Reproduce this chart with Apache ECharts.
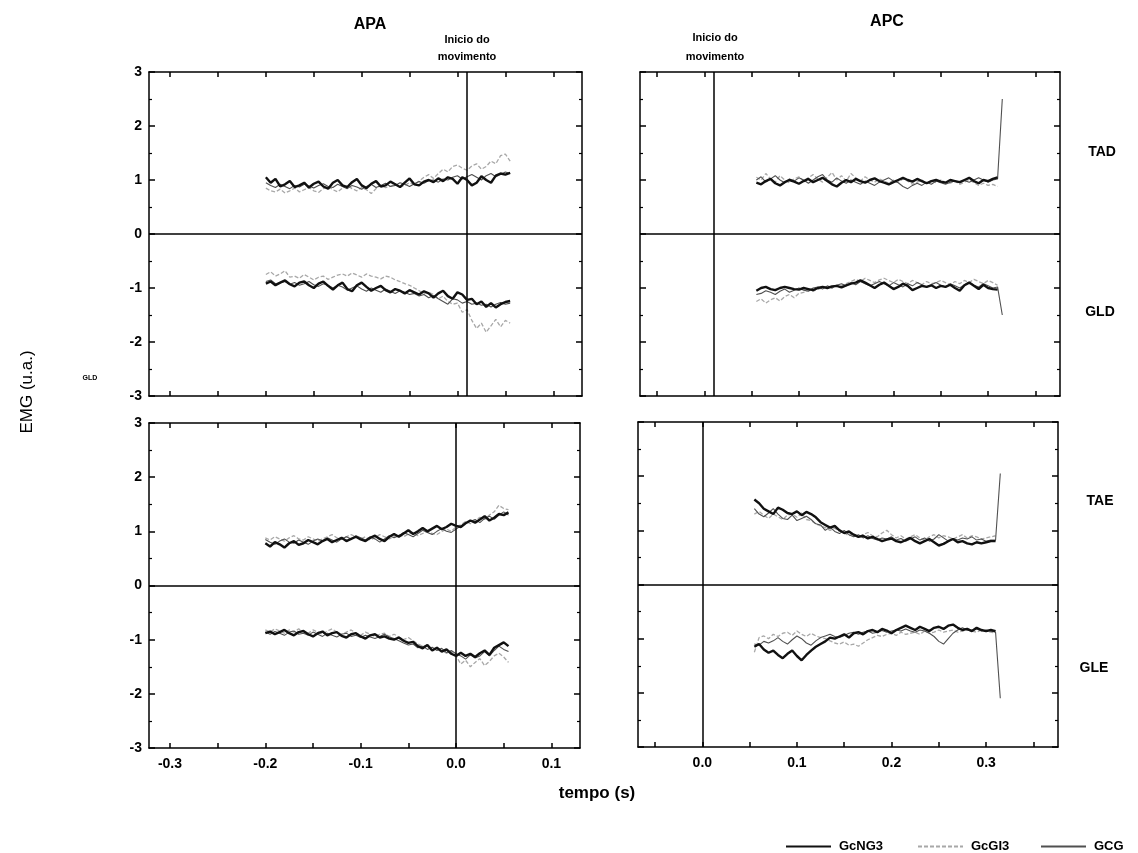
<!DOCTYPE html>
<html>
<head>
<meta charset="utf-8">
<script src="https://cdn.jsdelivr.net/npm/echarts@6/dist/echarts.min.js"></script>
<style>html,body{margin:0;padding:0;background:#fff}#c{width:1138px;height:853px}</style>
</head>
<body>
<div id="c"></div>
<script>
// ---------- sampling ----------
const leftStart = -0.2, rightStart = 0.055, sampleStep = 0.005, spikeTime = 0.315;
const onsetTimes = [0.005, 0.006, 0.002, 0.001]; // "Inicio do movimento" line per panel (TL, TR, BL, BR)
const seriesNames = ['GcNG3', 'GcGI3', 'GCG'];
const rowLabels = ['TAD', 'GLD', 'TAE', 'GLE'];
const leftXLabels = [-0.3, -0.2, -0.1, 0.0, 0.1];
const leftXTicks = [-0.3, -0.25, -0.2, -0.15, -0.1, -0.05, 0.0, 0.05, 0.1];
const rightXLabels = [0.0, 0.1, 0.2, 0.3];
const rightXTicks = [-0.05, 0.0, 0.05, 0.1, 0.15, 0.2, 0.25, 0.3, 0.35];

// ---------- APA (left column) ----------
const TAD_L_NG = [1.05,0.95,1.02,0.88,0.92,0.98,0.87,0.90,0.95,0.86,0.93,0.97,0.88,0.84,0.95,1.00,0.90,0.87,0.96,1.02,0.90,0.85,0.93,0.98,0.88,0.90,0.97,0.92,0.87,0.95,1.03,0.92,0.90,0.97,1.00,0.96,1.03,0.98,1.05,1.02,0.93,1.05,1.00,0.90,0.95,1.07,1.00,0.95,1.08,1.12,1.10,1.13];
const TAD_L_GI = [0.85,0.80,0.78,0.83,0.76,0.80,0.85,0.78,0.82,0.86,0.80,0.77,0.84,0.88,0.82,0.78,0.85,0.90,0.84,0.80,0.86,0.82,0.75,0.84,0.90,0.86,0.88,0.93,0.87,0.90,0.95,0.92,0.98,1.05,1.10,1.03,1.12,1.20,1.15,1.25,1.28,1.22,1.18,1.26,1.30,1.20,1.25,1.35,1.30,1.45,1.48,1.35];
const TAD_L_CG = [0.95,0.90,0.86,0.92,0.88,0.84,0.90,0.87,0.92,0.89,0.85,0.90,0.93,0.88,0.86,0.92,0.88,0.84,0.90,0.87,0.83,0.88,0.92,0.86,0.90,0.94,0.88,0.90,0.95,0.92,0.88,0.93,0.97,0.94,0.99,1.00,0.96,1.02,1.00,1.05,1.08,1.02,1.06,1.10,1.05,1.00,1.08,1.12,1.06,1.10,1.15,1.12];

const GLD_L_NG = [-0.92,-0.88,-0.95,-0.90,-0.86,-0.93,-0.97,-0.90,-0.88,-0.95,-1.00,-0.92,-0.88,-0.96,-1.03,-0.95,-0.90,-1.02,-1.06,-0.95,-0.90,-0.98,-1.05,-1.00,-0.96,-1.04,-1.08,-1.02,-1.05,-1.10,-1.04,-1.08,-1.12,-1.06,-1.10,-1.18,-1.10,-1.05,-1.15,-1.20,-1.08,-1.12,-1.22,-1.20,-1.30,-1.25,-1.35,-1.28,-1.36,-1.30,-1.26,-1.24];
const GLD_L_GI = [-0.75,-0.70,-0.78,-0.74,-0.68,-0.80,-0.78,-0.82,-0.75,-0.80,-0.85,-0.80,-0.78,-0.84,-0.80,-0.76,-0.74,-0.78,-0.72,-0.76,-0.80,-0.74,-0.78,-0.80,-0.83,-0.78,-0.80,-0.85,-0.88,-0.92,-0.95,-1.00,-1.05,-1.10,-1.08,-1.12,-1.20,-1.15,-1.25,-1.30,-1.28,-1.45,-1.40,-1.60,-1.75,-1.65,-1.82,-1.70,-1.58,-1.72,-1.60,-1.65];
const GLD_L_CG = [-0.88,-0.85,-0.92,-0.90,-0.88,-0.93,-0.90,-0.95,-0.92,-0.88,-0.94,-0.97,-0.92,-0.95,-1.00,-0.95,-0.98,-1.04,-1.00,-0.96,-1.02,-1.06,-1.00,-1.04,-1.08,-1.02,-1.06,-1.10,-1.05,-1.08,-1.12,-1.10,-1.15,-1.12,-1.18,-1.14,-1.20,-1.25,-1.30,-1.20,-1.22,-1.28,-1.25,-1.30,-1.28,-1.32,-1.30,-1.35,-1.30,-1.27,-1.30,-1.28];

const TAE_L_NG = [0.78,0.72,0.80,0.76,0.70,0.78,0.82,0.75,0.78,0.84,0.80,0.76,0.82,0.86,0.80,0.84,0.88,0.82,0.86,0.90,0.85,0.82,0.88,0.92,0.86,0.82,0.90,0.95,0.90,0.96,1.02,0.95,1.00,1.06,1.00,1.05,1.10,1.04,1.08,1.14,1.10,1.08,1.15,1.20,1.16,1.22,1.28,1.20,1.25,1.32,1.30,1.35];
const TAE_L_GI = [0.88,0.84,0.90,0.86,0.82,0.88,0.92,0.86,0.84,0.90,0.86,0.82,0.86,0.90,0.94,0.88,0.85,0.90,0.94,0.90,0.86,0.90,0.84,0.88,0.94,0.90,0.86,0.90,0.94,0.90,0.95,0.98,0.92,0.96,1.00,0.96,0.94,1.00,1.04,1.00,1.08,1.12,1.18,1.14,1.20,1.26,1.22,1.30,1.36,1.48,1.42,1.40];
const TAE_L_CG = [0.85,0.80,0.76,0.82,0.86,0.80,0.78,0.84,0.80,0.76,0.82,0.86,0.82,0.88,0.84,0.80,0.86,0.90,0.86,0.92,0.88,0.84,0.90,0.86,0.80,0.86,0.92,0.88,0.92,0.98,0.94,0.90,0.96,1.02,0.98,0.94,1.00,1.05,1.00,0.98,1.04,1.10,1.15,1.18,1.22,1.16,1.24,1.28,1.22,1.30,1.36,1.30];

const GLE_L_NG = [-0.88,-0.85,-0.90,-0.86,-0.82,-0.88,-0.92,-0.86,-0.84,-0.90,-0.94,-0.88,-0.85,-0.92,-0.88,-0.86,-0.93,-0.96,-0.90,-0.88,-0.94,-0.98,-0.92,-0.90,-0.96,-0.94,-0.98,-1.00,-0.96,-1.02,-1.06,-1.04,-1.12,-1.16,-1.10,-1.20,-1.15,-1.22,-1.18,-1.26,-1.30,-1.24,-1.30,-1.26,-1.32,-1.25,-1.20,-1.28,-1.15,-1.10,-1.05,-1.12];
const GLE_L_GI = [-0.82,-0.86,-0.80,-0.84,-0.88,-0.82,-0.86,-0.80,-0.85,-0.88,-0.82,-0.86,-0.90,-0.84,-0.80,-0.86,-0.90,-0.86,-0.82,-0.88,-0.92,-0.86,-0.90,-0.94,-0.90,-0.88,-0.94,-0.90,-0.95,-1.00,-0.96,-1.02,-1.08,-1.12,-1.10,-1.18,-1.14,-1.20,-1.25,-1.22,-1.30,-1.45,-1.38,-1.50,-1.42,-1.35,-1.48,-1.40,-1.30,-1.25,-1.32,-1.42];
const GLE_L_CG = [-0.86,-0.90,-0.85,-0.88,-0.92,-0.86,-0.84,-0.90,-0.88,-0.92,-0.86,-0.90,-0.94,-0.88,-0.92,-0.95,-0.90,-0.88,-0.94,-0.92,-0.96,-0.92,-0.95,-0.98,-0.94,-0.90,-0.95,-0.98,-1.02,-1.06,-1.10,-1.08,-1.15,-1.12,-1.18,-1.14,-1.20,-1.16,-1.24,-1.20,-1.26,-1.30,-1.36,-1.28,-1.34,-1.30,-1.22,-1.30,-1.20,-1.12,-1.18,-1.22];

// ---------- APC (right column) ----------
const TAD_R_NG = [0.95,0.92,0.98,1.02,0.94,0.90,0.96,1.00,0.97,0.93,0.98,1.02,0.96,1.00,1.04,0.98,0.92,0.88,0.95,1.00,0.96,1.02,0.98,0.95,1.00,1.03,0.98,0.95,0.92,0.96,1.00,1.04,1.00,0.97,1.02,0.98,0.94,0.98,1.00,0.97,0.95,1.00,0.98,0.96,1.00,1.04,0.98,0.94,1.00,0.98,1.02,1.05];
const TAD_R_GI = [1.05,1.00,1.12,1.02,0.96,1.08,1.00,0.95,1.02,1.06,0.98,1.04,1.10,1.02,0.96,1.05,1.14,1.00,1.08,0.98,1.12,1.04,0.98,1.06,1.00,0.96,1.02,0.98,0.94,1.00,0.96,1.02,0.98,0.92,0.96,1.00,0.94,0.98,0.95,1.00,0.96,0.94,0.98,0.92,0.96,1.00,0.95,0.90,0.94,0.90,0.92,0.88];
const TAD_R_CG = [1.00,1.06,0.96,1.02,1.08,1.00,0.95,1.02,0.98,1.04,1.00,0.94,1.00,1.06,1.10,1.00,0.96,1.04,0.98,0.94,1.00,0.96,0.92,0.98,0.94,0.90,0.96,1.00,1.04,0.98,0.95,0.88,0.84,0.90,0.94,0.90,0.96,0.92,0.98,0.95,0.92,0.96,0.98,0.95,0.99,0.96,1.00,1.04,1.00,0.96,1.00,1.02];
const TAD_R_spike = 2.5;

const GLD_R_NG = [-1.05,-1.00,-0.98,-1.02,-1.04,-1.00,-0.98,-1.00,-1.02,-1.03,-1.00,-1.02,-1.04,-1.00,-0.98,-1.00,-0.97,-0.96,-0.99,-0.95,-0.92,-0.90,-0.86,-0.90,-0.95,-1.00,-0.94,-0.90,-0.96,-1.02,-0.98,-0.92,-0.96,-1.04,-1.00,-0.96,-0.98,-0.95,-1.00,-0.96,-0.98,-0.94,-1.00,-1.05,-0.95,-0.90,-0.96,-1.02,-0.94,-1.00,-1.02,-1.03];
const GLD_R_GI = [-1.25,-1.20,-1.28,-1.22,-1.18,-1.24,-1.16,-1.12,-1.18,-1.10,-1.08,-1.04,-1.06,-1.02,-1.00,-0.98,-1.00,-0.95,-0.96,-0.92,-0.88,-0.84,-0.88,-0.82,-0.86,-0.90,-0.85,-0.82,-0.86,-0.90,-0.84,-0.88,-0.92,-0.86,-0.90,-0.94,-0.88,-0.92,-0.90,-0.86,-0.90,-0.94,-0.88,-0.92,-0.86,-0.90,-0.84,-0.88,-0.92,-0.86,-0.90,-0.95];
const GLD_R_CG = [-1.12,-1.10,-1.05,-1.08,-1.12,-1.06,-1.02,-1.08,-1.04,-1.00,-1.04,-1.06,-1.00,-0.98,-1.02,-0.96,-1.00,-0.95,-0.92,-0.96,-0.90,-0.94,-0.88,-0.92,-0.96,-0.92,-0.88,-0.92,-0.96,-0.90,-0.94,-0.98,-0.92,-0.96,-0.90,-0.94,-0.98,-0.94,-0.90,-0.95,-0.98,-0.92,-0.96,-1.00,-0.94,-0.90,-0.95,-0.98,-0.92,-0.96,-1.00,-0.98];
const GLD_R_spike = -1.5;

const TAE_R_NG = [1.57,1.50,1.40,1.35,1.30,1.42,1.38,1.32,1.30,1.35,1.28,1.34,1.30,1.24,1.15,1.10,1.05,1.08,1.00,0.95,0.98,0.92,0.88,0.90,0.85,0.88,0.84,0.80,0.83,0.85,0.80,0.78,0.82,0.86,0.80,0.76,0.80,0.84,0.78,0.72,0.75,0.80,0.84,0.78,0.80,0.76,0.74,0.78,0.76,0.78,0.80,0.80];
const TAE_R_GI = [1.30,1.35,1.28,1.22,1.30,1.25,1.20,1.28,1.30,1.24,1.32,1.20,1.18,1.12,1.08,1.05,1.00,1.04,0.98,0.95,0.90,0.94,0.88,0.92,0.96,0.90,0.88,0.95,1.00,0.92,0.86,0.90,0.84,0.88,0.92,0.86,0.82,0.88,0.92,0.86,0.90,0.88,0.84,0.88,0.92,0.86,0.90,0.88,0.84,0.86,0.88,0.90];
const TAE_R_CG = [1.40,1.30,1.25,1.32,1.40,1.30,1.22,1.20,1.28,1.18,1.22,1.26,1.20,1.12,1.10,1.00,1.06,0.98,0.94,1.00,0.92,0.88,0.92,0.86,0.90,0.85,0.82,0.86,0.84,0.88,0.82,0.85,0.80,0.84,0.88,0.82,0.86,0.80,0.84,0.92,0.86,0.80,0.85,0.82,0.86,0.84,0.88,0.82,0.84,0.80,0.82,0.82];
const TAE_R_spike = 2.05;

const GLE_R_NG = [-1.15,-1.10,-1.20,-1.26,-1.22,-1.30,-1.36,-1.28,-1.22,-1.32,-1.40,-1.30,-1.22,-1.15,-1.10,-1.05,-0.98,-1.00,-0.96,-0.92,-0.98,-0.90,-0.88,-0.92,-0.86,-0.84,-0.88,-0.82,-0.85,-0.90,-0.84,-0.80,-0.76,-0.80,-0.84,-0.78,-0.82,-0.86,-0.80,-0.78,-0.82,-0.76,-0.74,-0.80,-0.84,-0.82,-0.86,-0.80,-0.84,-0.86,-0.84,-0.86];
const GLE_R_GI = [-1.25,-0.98,-0.95,-1.00,-0.92,-0.96,-0.90,-0.88,-0.94,-0.86,-0.92,-0.96,-0.90,-0.95,-0.98,-1.00,-1.04,-1.08,-1.10,-1.06,-1.12,-1.10,-1.14,-1.08,-1.02,-0.98,-0.94,-0.96,-0.92,-0.90,-0.94,-0.88,-0.92,-0.90,-0.88,-0.92,-0.86,-0.90,-0.88,-0.84,-0.88,-0.86,-0.84,-0.88,-0.86,-0.84,-0.86,-0.88,-0.84,-0.86,-0.88,-0.90];
const GLE_R_CG = [-1.10,-1.12,-1.05,-1.08,-1.04,-0.98,-1.05,-1.10,-1.02,-0.95,-1.00,-1.08,-1.12,-1.04,-0.98,-0.95,-0.92,-0.96,-0.98,-0.94,-0.90,-0.88,-0.92,-0.88,-0.86,-0.90,-0.88,-0.85,-0.88,-0.86,-0.84,-0.86,-0.82,-0.86,-0.88,-0.84,-0.86,-0.90,-0.96,-1.05,-1.10,-1.00,-0.90,-0.84,-0.80,-0.84,-0.86,-0.82,-0.86,-0.84,-0.86,-0.88];
const GLE_R_spike = -2.1;

// ---------- build ----------
const FONT = '"Liberation Sans", Arial, Helvetica, sans-serif';
function pairs(start, vals, spike) {
  const out = vals.map((v, i) => [+(start + i * sampleStep).toFixed(4), v]);
  if (spike !== undefined) out.push([spikeTime, spike]);
  return out;
}
const styles = {
  GcNG3: { color: '#111', width: 2.4, type: 'solid' },
  GcGI3: { color: '#a8a8a8', width: 1.3, type: [4, 2] },
  GCG:   { color: '#505050', width: 1.1, type: 'solid' }
};
// panels: TL(0), TR(1), BL(2), BR(3)
const panels = [
  { left: 149, top: 72, width: 433, height: 324, col: 'L', bottom: false,
    groups: [[TAD_L_NG, TAD_L_GI, TAD_L_CG], [GLD_L_NG, GLD_L_GI, GLD_L_CG]], spikes: [[], []] },
  { left: 640, top: 72, width: 420, height: 324, col: 'R', bottom: false,
    groups: [[TAD_R_NG, TAD_R_GI, TAD_R_CG], [GLD_R_NG, GLD_R_GI, GLD_R_CG]],
    spikes: [[undefined, undefined, TAD_R_spike], [undefined, undefined, GLD_R_spike]] },
  { left: 149, top: 423, width: 431, height: 325, col: 'L', bottom: true,
    groups: [[TAE_L_NG, TAE_L_GI, TAE_L_CG], [GLE_L_NG, GLE_L_GI, GLE_L_CG]], spikes: [[], []] },
  { left: 638, top: 422, width: 420, height: 325, col: 'R', bottom: true,
    groups: [[TAE_R_NG, TAE_R_GI, TAE_R_CG], [GLE_R_NG, GLE_R_GI, GLE_R_CG]],
    spikes: [[undefined, undefined, TAE_R_spike], [undefined, undefined, GLE_R_spike]] }
];

const grid = [], xAxis = [], yAxis = [], series = [];
const lineBlack = { color: '#000', width: 1.5 };
panels.forEach((p, g) => {
  const isL = p.col === 'L';
  grid.push({ left: p.left, top: p.top, width: p.width, height: p.height, show: false });
  const xmin = isL ? -0.322 : -0.068, xmax = isL ? 0.130 : 0.376;
  const ticks = isL ? leftXTicks : rightXTicks;
  const labs = isL ? leftXLabels : rightXLabels;
  ['bottom', 'top'].forEach((pos, k) => {
    xAxis.push({
      type: 'value', gridIndex: g, position: pos, min: xmin, max: xmax,
      axisLine: { show: true, onZero: false, lineStyle: lineBlack },
      axisTick: { show: true, inside: true, length: 5, customValues: ticks, lineStyle: { color: '#000', width: 1.5 } },
      axisLabel: { show: k === 0 && p.bottom, customValues: labs, formatter: v => v.toFixed(1),
        color: '#000', fontWeight: 'bold', fontSize: 14, fontFamily: FONT, margin: 9 },
      splitLine: { show: false }
    });
  });
  ['left', 'right'].forEach((pos, k) => {
    yAxis.push({
      type: 'value', gridIndex: g, position: pos, min: -3, max: 3, interval: 1,
      axisLine: { show: true, onZero: false, lineStyle: lineBlack },
      axisTick: { show: true, inside: true, length: 6, lineStyle: { color: '#000', width: 1.5 } },
      minorTick: { show: true, splitNumber: 2, length: 3, lineStyle: { color: '#000', width: 1.2 } },
      axisLabel: { show: k === 0 && isL, color: '#000', fontWeight: 'bold', fontSize: 14, fontFamily: FONT, margin: 7 },
      splitLine: { show: false }
    });
  });
  const start = isL ? leftStart : rightStart;
  let first = true;
  [1, 2, 0].forEach(si => {
    p.groups.forEach((grp, gi) => {
      const name = seriesNames[si];
      const s = {
        name, type: 'line', xAxisIndex: g * 2, yAxisIndex: g * 2, symbol: 'none',
        silent: true, animation: false, z: si === 0 ? 5 : (si === 2 ? 4 : 3),
        lineStyle: styles[name], itemStyle: { color: styles[name].color },
        data: pairs(start, grp[si], p.spikes[gi][si])
      };
      if (first) {
        s.markLine = { silent: true, symbol: ['none', 'none'], label: { show: false }, animation: false,
          lineStyle: { color: '#000', width: 1.5, type: 'solid' },
          data: [{ yAxis: 0 }, { xAxis: onsetTimes[g] }] };
        first = false;
      }
      series.push(s);
    });
  });
});

function txt(x, y, text, size, weight, extra) {
  return Object.assign({ type: 'text', x, y, silent: true,
    style: { text, fill: '#000', font: `${weight} ${size}px ${FONT}`, textAlign: 'center', textVerticalAlign: 'middle' } }, extra || {});
}
const graphic = [
  txt(370, 25, 'APA', 16, 'bold'),
  txt(887, 22, 'APC', 16, 'bold'),
  txt(467, 40, 'Inicio do', 11, 'bold'),
  txt(467, 57, 'movimento', 11, 'bold'),
  txt(715, 38, 'Inicio do', 11, 'bold'),
  txt(715, 57, 'movimento', 11, 'bold'),
  txt(1102, 152, rowLabels[0], 14, 'bold'),
  txt(1100, 312, rowLabels[1], 14, 'bold'),
  txt(1100, 501, rowLabels[2], 14, 'bold'),
  txt(1094, 668, rowLabels[3], 14, 'bold'),
  txt(90, 378, 'GLD', 7, 'bold'),
  txt(597, 793, 'tempo (s)', 17, 'bold'),
  { type: 'text', x: 27, y: 392, rotation: Math.PI / 2, silent: true,
    style: { text: 'EMG (u.a.)', fill: '#000', font: `normal 17px ${FONT}`, textAlign: 'center', textVerticalAlign: 'middle' } }
];

// one legend block per series, placed like the reference's key
const legendLefts = [785, 917, 1040];
const legend = seriesNames.map((n, i) => ({
  data: [n], left: legendLefts[i], top: 840, padding: 0, itemWidth: 45, itemHeight: 10,
  itemStyle: { opacity: 0 },
  textStyle: { color: '#000', fontWeight: 'bold', fontSize: 13, fontFamily: FONT, padding: [0, 0, 0, 3] },
  selectedMode: false
}));

const chart = echarts.init(document.getElementById('c'), null, { renderer: 'canvas' });
chart.setOption({
  animation: false,
  backgroundColor: '#fff',
  grid, xAxis, yAxis, series, graphic, legend
});
</script>
</body>
</html>
